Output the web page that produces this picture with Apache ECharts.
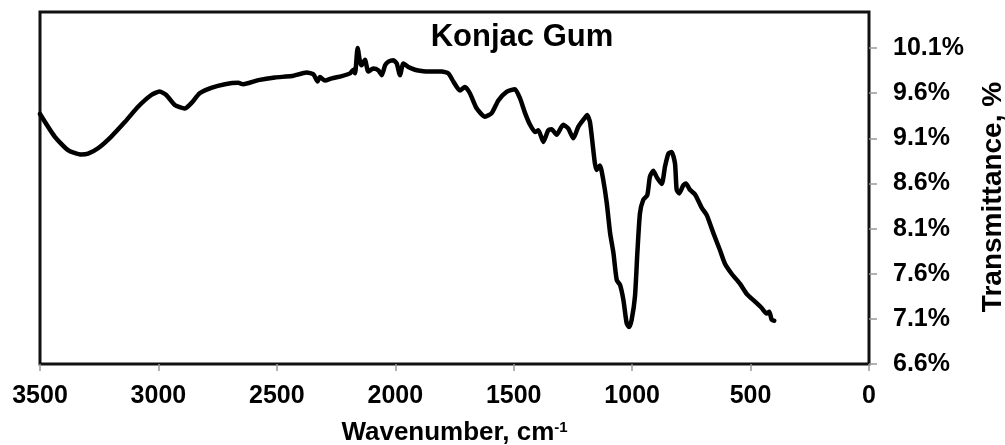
<!DOCTYPE html>
<html>
<head>
<meta charset="utf-8">
<script src="https://cdn.jsdelivr.net/npm/echarts@6/dist/echarts.min.js"></script>
<style>
html,body{margin:0;padding:0;background:#fff;}
#chart{width:1005px;height:445px;}
</style>
</head>
<body>
<div id="chart"></div>
<script>
// Wavenumber (cm-1) and transmittance (%)
const wavenumbers = [3500, 3438, 3382, 3326, 3297, 3255, 3199, 3142, 3086, 3030, 2995, 2967, 2931, 2889, 2861, 2826, 2777, 2719, 2663, 2642, 2578, 2508, 2437, 2374, 2346, 2328, 2318, 2297, 2268, 2226, 2191, 2177, 2170, 2159, 2149, 2142, 2128, 2114, 2093, 2072, 2057, 2043, 2029, 2008, 1994, 1980, 1966, 1945, 1917, 1896, 1854, 1804, 1776, 1755, 1727, 1706, 1685, 1656, 1621, 1593, 1565, 1530, 1495, 1473, 1452, 1431, 1410, 1396, 1375, 1354, 1340, 1319, 1291, 1270, 1248, 1227, 1199, 1190, 1178, 1164, 1157, 1150, 1136, 1122, 1107, 1093, 1079, 1065, 1051, 1037, 1023, 1013, 1002, 988, 978, 967, 953, 936, 925, 911, 894, 875, 861, 847, 833, 819, 812, 801, 784, 773, 756, 735, 706, 685, 657, 629, 608, 580, 545, 516, 481, 453, 432, 421, 411, 400];
const transmittance = [9.37, 9.12, 8.97, 8.92, 8.93, 8.99, 9.12, 9.28, 9.45, 9.58, 9.62, 9.58, 9.47, 9.43, 9.49, 9.60, 9.66, 9.70, 9.715, 9.70, 9.745, 9.775, 9.79, 9.83, 9.81, 9.73, 9.78, 9.74, 9.765, 9.79, 9.82, 9.86, 9.82, 10.10, 9.95, 9.91, 9.97, 9.84, 9.875, 9.855, 9.80, 9.91, 9.95, 9.965, 9.93, 9.80, 9.93, 9.89, 9.86, 9.85, 9.84, 9.84, 9.82, 9.73, 9.63, 9.67, 9.60, 9.43, 9.34, 9.38, 9.52, 9.615, 9.645, 9.54, 9.38, 9.25, 9.17, 9.19, 9.06, 9.19, 9.20, 9.14, 9.25, 9.21, 9.10, 9.23, 9.33, 9.36, 9.28, 8.97, 8.82, 8.75, 8.80, 8.64, 8.38, 8.05, 7.83, 7.53, 7.475, 7.31, 7.05, 7.01, 7.09, 7.35, 7.83, 8.27, 8.42, 8.47, 8.675, 8.74, 8.66, 8.595, 8.79, 8.93, 8.95, 8.82, 8.53, 8.49, 8.58, 8.60, 8.53, 8.48, 8.33, 8.25, 8.05, 7.86, 7.71, 7.60, 7.49, 7.375, 7.29, 7.22, 7.16, 7.18, 7.09, 7.08];
const xTicks = [3500, 3000, 2500, 2000, 1500, 1000, 500, 0];
const yTicks = [6.6, 7.1, 7.6, 8.1, 8.6, 9.1, 9.6, 10.1];
const titleText = 'Konjac Gum';
const xName = 'Wavenumber, cm';
const xNameSup = '-1';
const yName = 'Transmittance, %';

const FONT = "'Liberation Sans', Arial, Helvetica, sans-serif";
const chart = echarts.init(document.getElementById('chart'), null, {renderer: 'canvas'});
const seriesData = wavenumbers.map((w, i) => [w, transmittance[i]]);

chart.setOption({
  animation: false,
  backgroundColor: '#fff',
  title: {
    text: titleText,
    left: 522,
    top: 22,
    textAlign: 'center',
    padding: 0,
    textStyle: {fontFamily: FONT, fontWeight: 'bold', fontSize: 31, color: '#000'}
  },
  grid: {
    left: 40, top: 12, right: 136, bottom: 81,
    containLabel: false,
    outerBoundsMode: 'none',
    show: true, borderColor: '#111', borderWidth: 3, backgroundColor: 'transparent'
  },
  xAxis: {
    type: 'value',
    inverse: true,
    min: 0, max: 3500, interval: 500,
    axisLine: {show: false},
    axisTick: {show: true, length: 7, lineStyle: {color: '#999', width: 1.5}, customValues: xTicks},
    axisLabel: {
      customValues: xTicks,
      formatter: v => String(v),
      margin: 20, color: '#000', fontFamily: FONT, fontWeight: 'bold', fontSize: 25
    },
    splitLine: {show: false},
    name: '{a|' + xName + '}{b|' + xNameSup + '}',
    nameLocation: 'middle',
    nameGap: 56,
    nameTextStyle: {
      rich: {
        a: {fontFamily: FONT, fontWeight: 'bold', fontSize: 26, color: '#000', verticalAlign: 'bottom'},
        b: {fontFamily: FONT, fontWeight: 'bold', fontSize: 15, color: '#000', verticalAlign: 'bottom', padding: [0, 0, 11, 0]}
      }
    }
  },
  yAxis: {
    type: 'value',
    position: 'right',
    min: 6.6, max: 10.5,
    axisLine: {show: false},
    axisTick: {show: true, length: 8, lineStyle: {color: '#999', width: 1.5}, customValues: yTicks},
    axisLabel: {
      customValues: yTicks,
      formatter: v => v.toFixed(1) + '%',
      margin: 24, color: '#000', fontFamily: FONT, fontWeight: 'bold', fontSize: 25
    },
    splitLine: {show: false},
    name: yName,
    nameLocation: 'middle',
    nameRotate: 90,
    nameGap: 110,
    nameTextStyle: {fontFamily: FONT, fontWeight: 'bold', fontSize: 28, color: '#000', padding: [0, 18, 0, 0]}
  },
  series: [{
    type: 'line',
    data: seriesData,
    showSymbol: false,
    smooth: 0.2,
    lineStyle: {color: '#000', width: 4.5, join: 'round', cap: 'round'},
    clip: true
  }]
});
</script>
</body>
</html>
